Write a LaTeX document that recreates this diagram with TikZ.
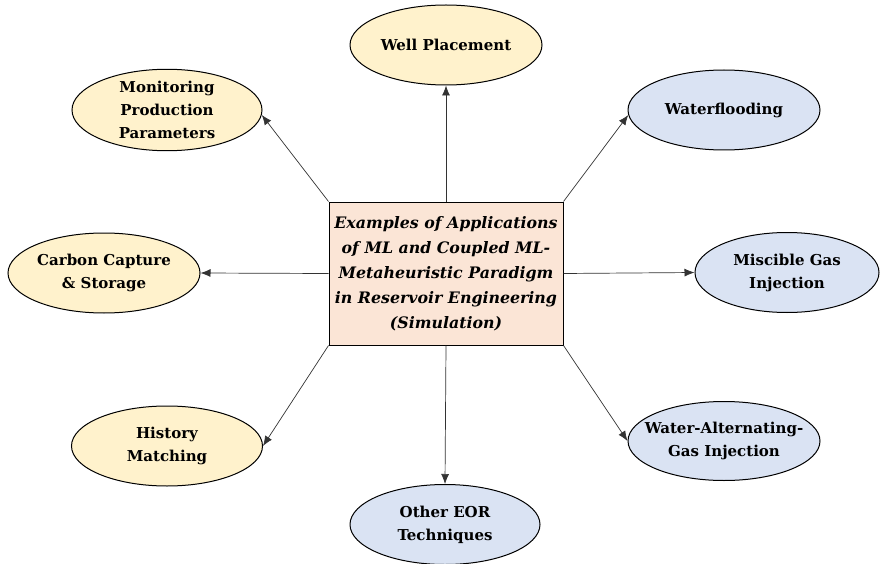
\documentclass[tikz,border=0pt]{standalone}
\usepackage{fontspec}
\setmainfont{DejaVu Serif}
\usetikzlibrary{shapes.geometric,arrows.meta}
\definecolor{ygold}{HTML}{FFF2CC}
\definecolor{lblue}{HTML}{DAE3F3}
\definecolor{lpeach}{HTML}{FBE5D6}
\tikzset{
  bubble/.style={ellipse, draw=black, line width=1pt, minimum width=192pt, minimum height=80pt,
    inner sep=0pt, align=center, font=\fontsize{15}{23}\selectfont\bfseries},
  goldb/.style={bubble, fill=ygold},
  blueb/.style={bubble, fill=lblue},
  centerbox/.style={rectangle, draw=black, line width=1pt, fill=lpeach, minimum width=234pt,
    minimum height=143pt, inner sep=0pt, align=center, font=\fontsize{15.8}{25}\selectfont\bfseries\itshape},
  link/.style={draw=black!80, line width=0.7pt, -{Latex[length=10pt,width=8pt]}}
}
\begin{document}
\begin{tikzpicture}[x=1pt,y=-1pt]
\useasboundingbox (0,0) rectangle (880,564);
\node[centerbox] (c) at (446,273.5) {Examples of Applications\\of ML and Coupled ML-\\Metaheuristic Paradigm\\in Reservoir Engineering\\(Simulation)};
\node[goldb] (well) at (446,45) {Well Placement};
\node[goldb, minimum width=190pt] (mon) at (167,110) {Monitoring\\Production\\Parameters};
\node[blueb] (wf) at (724,110) {Waterflooding};
\node[goldb] (ccs) at (104,273) {Carbon Capture\\\& Storage};
\node[blueb, minimum width=184pt] (misc) at (787,272.5) {Miscible Gas\\Injection};
\node[goldb, minimum width=191pt] (hist) at (167,446) {History\\Matching};
\node[blueb, minimum height=79pt, inner xsep=-13pt] (wag) at (724,441) {Water-Alternating-\\Gas Injection};
\node[blueb, minimum width=190pt] (eor) at (445,524.5) {Other EOR\\Techniques};
\draw[link] (c.north) -- (well.south);
\draw[link] (c.north west) -- (mon.-3);
\draw[link] (c.north east) -- (wf.183);
\draw[link] (c.west) -- (ccs.east);
\draw[link] (c.east) -- (misc.west);
\draw[link] (c.south west) -- (hist.east);
\draw[link] (c.south east) -- (wag.west);
\draw[link] (c.south) -- (eor.north);
\end{tikzpicture}
\end{document}
